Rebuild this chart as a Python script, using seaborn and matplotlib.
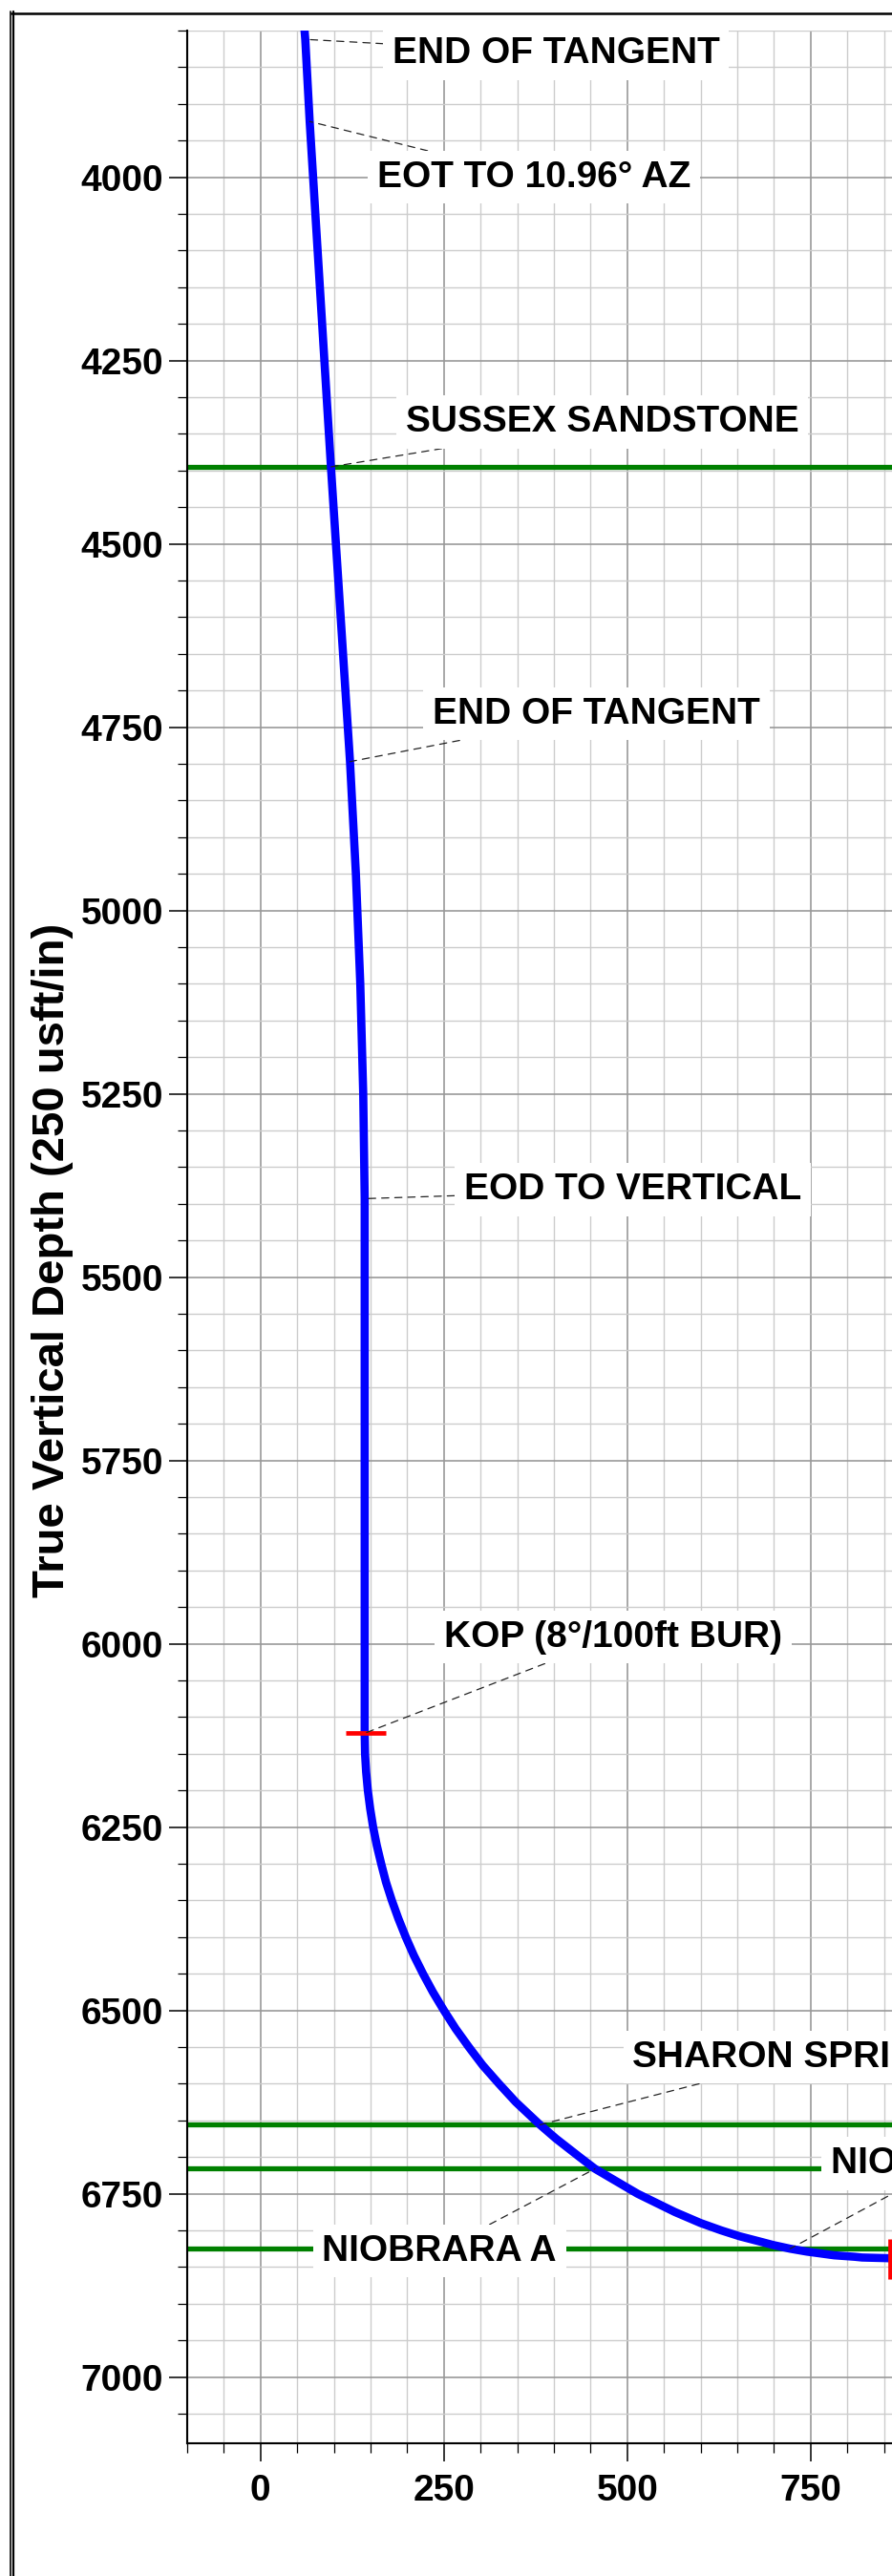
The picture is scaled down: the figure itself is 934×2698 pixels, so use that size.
import numpy as np
import pandas as pd
import matplotlib
matplotlib.use('Agg')
import matplotlib.pyplot as plt
import seaborn as sns
from matplotlib.lines import Line2D
from matplotlib.ticker import MultipleLocator

# well path: vertical section (usft) vs true vertical depth (usft)
vs = [60, 61, 67, 96, 122, 130, 136, 140, 142, 142, 142.5, 144, 146.3, 149.5,
      153.5, 158.5, 164.5, 171, 179, 188, 198, 209, 221.5, 235, 250, 266, 284,
      303, 325, 348, 381, 403, 435, 456, 485, 514, 565, 600, 628, 653, 680, 699,
      722, 745, 760, 782, 810, 820, 858, 900, 1600]
tvd = [3800, 3812, 3924, 4395, 4797, 4950, 5100, 5250, 5393, 6122, 6150, 6175,
       6200, 6225, 6250, 6275, 6300, 6325, 6350, 6375, 6400, 6425, 6450, 6475,
       6500, 6525, 6550, 6575, 6600, 6625, 6656, 6675, 6700, 6716, 6733, 6750,
       6775, 6790, 6800, 6808, 6815, 6820, 6825, 6829, 6831, 6834, 6836, 6837,
       6838, 6838, 6838]

# formation tops (tvd)
form_tvd = [4395, 6656, 6716, 6825]

# annotated points on the path
labels = ['END OF TANGENT', 'EOT TO 10.96° AZ', 'SUSSEX SANDSTONE', 'END OF TANGENT',
          'EOD TO VERTICAL', 'KOP (8°/100ft BUR)', 'SHARON SPRINGS', 'NIOBRARA A',
          'NIOBRARA B']
pt_vs = [61, 67, 96, 122, 142, 142, 381, 456, 722]
pt_tvd = [3812, 3924, 4395, 4797, 5393, 6122, 6656, 6716, 6825]

# label placement (data coords)
txt_vs = [403, 373, 466, 458, 507, 481, 738, 244, 938]
txt_tvd = [3831, 4000, 4334, 4732, 5381, 5991, 6564, 6828, 6709]

# red ticks at KOP and landing
mark_vs = [143, 858]
mark_tvd = [6122, 6839]

sns.set_theme(style='whitegrid')
plt.rcParams['font.family'] = ['Liberation Sans', 'DejaVu Sans']
plt.rcParams['font.weight'] = 'bold'

W, H = 934, 2698
fig = plt.figure(figsize=(W / 100, H / 100), dpi=100)
fig.patch.set_facecolor('white')

sc = 0.768  # px per usft (both axes)
x0, x1 = -100, 1600
y0, y1 = 3800, 7090
left_px, top_px = 196, 32
ax_w = (x1 - x0) * sc
ax_h = (y1 - y0) * sc
ax = fig.add_axes([left_px / W, 1 - (top_px + ax_h) / H, ax_w / W, ax_h / H])
ax.set_facecolor('white')

df = pd.DataFrame({'vs': vs, 'tvd': tvd})
for d in form_tvd:
    ax.axhline(d, color='green', lw=3.8, zorder=2)
sns.lineplot(data=df, x='vs', y='tvd', sort=False, estimator=None, color='blue',
             lw=6.2, ax=ax, zorder=3)

ax.plot(mark_vs[:1], mark_tvd[:1], marker='_', ms=30, mew=3.4, color='red', zorder=4, ls='none')
ax.plot(mark_vs[1:], mark_tvd[1:], marker='|', ms=30, mew=3.4, color='red', zorder=4, ls='none')

for t, px, py, tx, ty in zip(labels, pt_vs, pt_tvd, txt_vs, txt_tvd):
    ax.annotate(t, xy=(px, py), xytext=(tx, ty), ha='center', va='center',
                fontsize=28, fontweight='bold', color='black', zorder=5,
                bbox=dict(boxstyle='square,pad=0.25', fc='white', ec='none'),
                arrowprops=dict(arrowstyle='-', ls=(0, (6, 5)), lw=0.9, color='#222222',
                                shrinkA=0, shrinkB=0))

ax.set_xlim(x0, x1)
ax.set_ylim(y1, y0)
ax.xaxis.set_major_locator(MultipleLocator(250))
ax.xaxis.set_minor_locator(MultipleLocator(50))
ax.yaxis.set_major_locator(MultipleLocator(250))
ax.yaxis.set_minor_locator(MultipleLocator(50))

ax.set_axisbelow(True)
ax.grid(True, which='major', color='#999999', lw=1.2)
ax.grid(True, which='minor', color='#cccccc', lw=1.0)
ax.tick_params(which='major', length=14, width=1.1, color='black', labelsize=28,
               labelcolor='black', bottom=True, left=True)
ax.tick_params(which='minor', length=7, width=0.9, color='black', bottom=True, left=True)
ax.tick_params(axis='x', which='major', pad=9)
ax.tick_params(axis='y', which='major', pad=4)

for s in ['top', 'right']:
    ax.spines[s].set_visible(False)
for s in ['left', 'bottom']:
    ax.spines[s].set_color('black')
    ax.spines[s].set_linewidth(1.5)

ax.set_xlabel('')
ax.set_ylabel('True Vertical Depth (250 usft/in)', fontsize=34, fontweight='bold', color='black')
ax.yaxis.set_label_coords((77 - left_px) / ax_w, (top_px + ax_h - 1320) / ax_h)

# page frame
fig.add_artist(Line2D([11 / W, 11 / W], [0, 1 - 12 / H], transform=fig.transFigure, color='black', lw=1.2))
fig.add_artist(Line2D([13.5 / W, 13.5 / W], [0, 1 - 12 / H], transform=fig.transFigure, color='black', lw=1.6))
fig.add_artist(Line2D([12 / W, 1], [1 - 14 / H, 1 - 14 / H], transform=fig.transFigure, color='black', lw=1.8))

fig.savefig('out.png', dpi=100, facecolor='white')
